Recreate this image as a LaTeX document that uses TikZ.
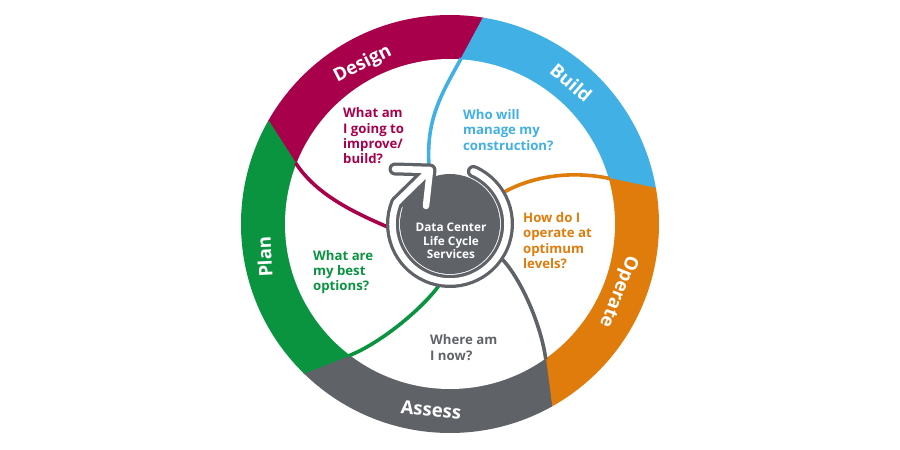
\documentclass[tikz,border=0pt]{standalone}
\usepackage{fontspec}
\setmainfont{Open Sans}
\definecolor{cdes}{HTML}{A8004A}
\definecolor{cbui}{HTML}{41B0E4}
\definecolor{cope}{HTML}{E07C0C}
\definecolor{cass}{HTML}{5F6368}
\definecolor{cpla}{HTML}{0A9440}
\begin{document}
\begin{tikzpicture}[x=1pt,y=1pt,
  seg/.style={line width=0.6},
  spiral/.style={line width=3.6},
  lab/.style={text=white, inner sep=0, font=\fontsize{18.5}{18.5}\selectfont\bfseries, text height=13pt, text depth=0pt},
  quest/.style={anchor=west, align=left, inner sep=0, font=\fontsize{13.2}{15.3}\selectfont\bfseries},
  ctr/.style={text=white, align=center, inner sep=0, font=\fontsize{11.8}{13.3}\selectfont\bfseries}]
\useasboundingbox (-450,-226) rectangle (450,224);
% coloured ring
\begin{scope}
\clip (0,0) circle (209);
\filldraw[seg, cdes] (0,0) -- (3,150.5) -- (93,317) -- (-120,420) -- (-263,230) -- (-141.5,41) -- cycle;
\filldraw[seg, cbui] (0,0) -- (148,48) -- (319,12) -- (320,320) -- (93,317) -- (3,150.5) -- cycle;
\filldraw[seg, cope] (0,0) -- (93,-114) -- (120,-321) -- (330,-200) -- (319,12) -- (148,48) -- cycle;
\filldraw[seg, cass] (0,0) -- (-88,-126.5) -- (-259,-194) -- (-100,-380) -- (120,-321) -- (93,-114) -- cycle;
\filldraw[seg, cpla] (0,0) -- (-141.5,41) -- (-263,230) -- (-380,0) -- (-259,-194) -- (-88,-126.5) -- cycle;
\end{scope}
\fill[white] (0,0) circle (165);
% spiral curves
\draw[spiral, cdes] (-154.4,61.1) .. controls (-133.8,29.1) and (-95,11) .. (-60,-4);
\draw[spiral, cbui] (11.2,165.7) .. controls (-9,129) and (-24,105) .. (-21,58);
\draw[spiral, cope] (159.7,45.5) .. controls (120.5,53.7) and (80,48) .. (49,29);
\draw[spiral, cass] (95.8,-135.5) .. controls (91.3,-100.8) and (70,-52) .. (50,-33);
\draw[spiral, cpla] (-101.1,-131.7) .. controls (-67.6,-118.5) and (-25,-82) .. (-10,-60);
% centre
\fill[cass] (0,0) circle (50);
\fill[cass] (-50,20) -- (-24,47) -- (-22,15) -- (-40,8) -- cycle;
\coordinate (tip) at (-20,54);
\coordinate (armL) at (-55,55);
\coordinate (armD) at (-24,18);
\def\arrowpath{(66:57.5) arc[start angle=66,end angle=-202,radius=57.5] -- (tip) (armL) -- (tip) -- (armD)}
\draw[cass, line width=13, line cap=round, line join=round] \arrowpath;
\draw[white, line width=6.5, line cap=round, line join=round] \arrowpath;
\node[ctr] (dc) at (1,-17) {Data Center\\Life Cycle\\Services};
% ring labels
\node[lab, rotate=27] (design) at (-88,161) {Design};
\node[lab, rotate=-40.6] (build) at (121,141) {Build};
\node[lab, rotate=-111.8] (operate) at (170,-68) {Operate};
\node[lab, rotate=-5.8] (assess) at (-19,-186) {Assess};
\node[lab, rotate=93] (plan) at (-185,-33) {Plan};
% questions
\node[quest, text=cdes] (qd) at (-107,88) {What am\\I going to\\improve/\\build?};
\node[quest, text=cbui] (qb) at (13,94) {Who will\\manage my\\construction?};
\node[quest, text=cope] (qo) at (73,-16.5) {How do I\\operate at\\optimum\\levels?};
\node[quest, text=cpla] (qp) at (-137,-48) {What are\\my best\\options?};
\node[quest, text=cass] (qa) at (-20,-123.5) {Where am\\I now?};
\end{tikzpicture}
\end{document}
